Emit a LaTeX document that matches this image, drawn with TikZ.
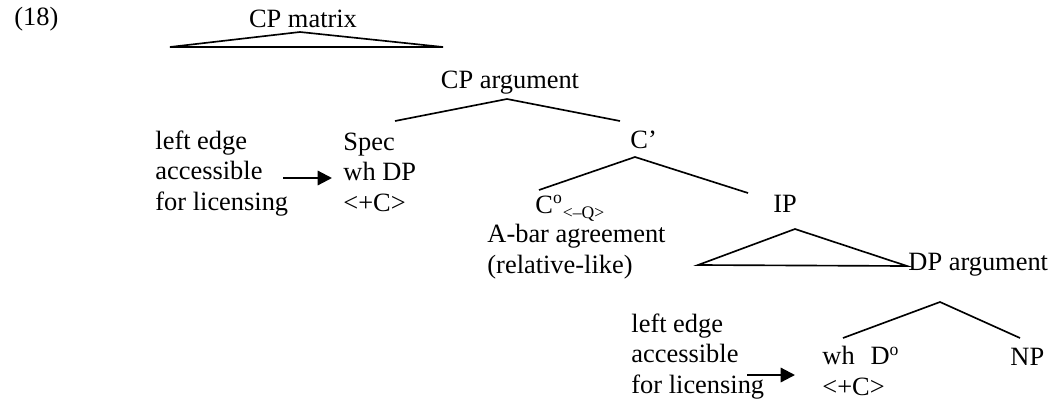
\documentclass[tikz,border=0pt]{standalone}
\usepackage{fontspec}
\setmainfont{Liberation Serif}
\usetikzlibrary{arrows.meta}
\begin{document}
\begin{tikzpicture}[x=0.4545pt,y=-0.4545pt,
    txt/.style={anchor=base west,align=left,inner sep=0pt,font=\fontsize{12}{13.64}\selectfont},
    branch/.style={line width=0.75pt},
    licence/.style={line width=1pt,-{Triangle[length=6.5pt,width=6.5pt]}}]
                    \useasboundingbox (0,0) rectangle (1061,403);

                    % the base of a multi-line node is its last line
                    \node [txt] (ex) at (14,25) {(18)};
                    \node [txt,anchor=base] (CPmat) at (303,27) {CP matrix};
                        \coordinate (CPmatT) at (300,32);
                        \coordinate (CPmatL) at (170,47);
                        \coordinate (CPmatR) at (443,47);

                    \node [txt,anchor=base] (CParg) at (510,88) {CP argument};
                        \coordinate (CPargT) at (507,99);
                        \coordinate (CPargL) at (395,121);
                        \coordinate (CPargR) at (620,121);

                    \node [txt] (LeftA) at (155,210) {left edge\\accessible\\for licensing};
                    \node [txt] (Spec) at (343,211) {Spec\\wh DP\\<+C>};
                        \coordinate (ArrAs) at (283,178);
                        \coordinate (ArrAt) at (332,178);

                    \node [txt] (Cbar) at (630,148) {C’};
                        \coordinate (CbarT) at (635,157);
                        \coordinate (CbarL) at (539,190);
                        \coordinate (CbarR) at (748,193);

                    \node [txt] (Czero) at (535,213) {C\textsuperscript{o}\raisebox{-0.45ex}{\fontsize{8}{9}\selectfont <–Q>}};
                    \node [txt] (Abar) at (487,273) {A-bar agreement\\(relative-like)};

                    \node [txt] (IP) at (773,212) {IP};
                        \coordinate (IPT) at (795,229);
                        \coordinate (IPL) at (698,265);
                        \coordinate (IPR) at (907,266);

                    \node [txt] (DParg) at (908,270) {DP argument};
                        \coordinate (DPargT) at (940,302);
                        \coordinate (DPargL) at (843,338);
                        \coordinate (DPargR) at (1020,338);

                    \node [txt] (LeftB) at (631,393) {left edge\\accessible\\for licensing};
                    \node [txt] (WhD) at (822,395) {wh\hspace{0.6em}D\textsuperscript{o}\\<+C>};
                    \node [txt] (NP) at (1010,365) {NP};
                        \coordinate (ArrBs) at (747,375);
                        \coordinate (ArrBt) at (795,375);

                    \draw[branch] (CPmatL) -- (CPmatT) -- (CPmatR) -- cycle;
                    \draw[branch] (CPargL) -- (CPargT) -- (CPargR);
                    \draw[branch] (CbarL) -- (CbarT) -- (CbarR);
                    \draw[branch] (IPL) -- (IPT) -- (IPR) -- cycle;
                    \draw[branch] (DPargL) -- (DPargT) -- (DPargR);

                    \draw[licence] (ArrAs) -- (ArrAt);
                    \draw[licence] (ArrBs) -- (ArrBt);

\end{tikzpicture}
\end{document}
